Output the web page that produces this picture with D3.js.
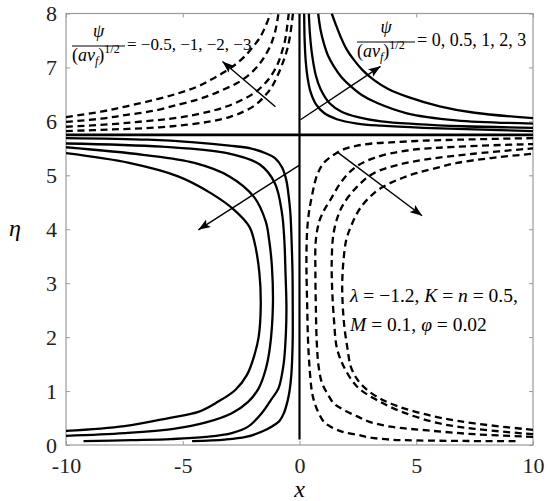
<!DOCTYPE html>
<html><head><meta charset="utf-8">
<script src="https://cdn.jsdelivr.net/npm/d3@7/dist/d3.min.js"></script>
<style>body{margin:0;background:#fff}svg{display:block}text{font-family:"Liberation Serif","Times New Roman",serif}</style>
</head><body><svg id="c" width="550" height="501"></svg>
<script>
// ---- axes ----
const xTicks = [-10, -5, 0, 5, 10];
const yTicks = [0, 1, 2, 3, 4, 5, 6, 7, 8];
// ---- stream function levels (psi/(a nu_f)^1/2) ----
const posLevels = [0, 0.5, 1, 2, 3];
const negLevels = [-0.5, -1, -2, -3];
const dividingEta = 5.75;           // psi = 0 horizontal line
const axisLineEta = [0.1, 8];        // psi = 0 vertical line x = 0

// streamlines [x, eta]
// lower-left, psi > 0 (solid)
const llPsi05 = [[-4.6,0.07],[-3.2,0.10],[-2.3,0.15],[-1.6,0.25],[-1.2,0.34],[-0.85,0.45],[-0.67,0.59],[-0.52,0.8],[-0.42,1.02],[-0.35,1.3],[-0.31,1.64],[-0.29,2.0],[-0.29,2.57],[-0.3,3.2],[-0.34,3.8],[-0.39,4.3],[-0.46,4.6],[-0.57,4.92],[-0.75,5.15],[-1.05,5.32],[-1.45,5.41],[-2.1,5.5],[-3.0,5.55],[-4.5,5.61],[-6.5,5.66],[-10,5.69]];
const llPsi1 = [[-9.25,0.07],[-7.2,0.09],[-5.5,0.11],[-4.0,0.15],[-2.9,0.22],[-2.2,0.34],[-1.62,0.59],[-1.2,0.85],[-0.9,1.05],[-0.68,1.5],[-0.58,2.1],[-0.56,2.57],[-0.6,3.2],[-0.65,3.8],[-0.75,4.3],[-1.05,4.85],[-1.7,5.2],[-3.1,5.41],[-5.9,5.53],[-10,5.59]];
const llPsi2 = [[-10,0.17],[-7.5,0.22],[-5.4,0.3],[-4.0,0.42],[-2.9,0.59],[-2.2,0.8],[-1.75,1.05],[-1.45,1.4],[-1.27,1.8],[-1.14,2.57],[-1.18,3.3],[-1.3,3.8],[-1.45,4.15],[-1.95,4.6],[-3.0,4.98],[-4.5,5.23],[-6.7,5.38],[-10,5.52]];
const llPsi3 = [[-10,0.26],[-7.5,0.35],[-5.6,0.5],[-4.3,0.62],[-3.5,0.8],[-2.75,1.02],[-2.25,1.3],[-1.95,1.64],[-1.75,2.0],[-1.66,2.57],[-1.72,3.2],[-1.95,3.8],[-2.15,4.05],[-2.8,4.36],[-3.8,4.67],[-5.2,4.98],[-7.3,5.23],[-10,5.41]];
// upper-right, psi > 0 (solid)
const urPsi05 = [[0.2,8.0],[0.22,7.5],[0.27,7.1],[0.35,6.8],[0.47,6.55],[0.7,6.32],[1.04,6.16],[1.6,6.04],[2.47,5.96],[3.5,5.92],[5.3,5.88],[7.5,5.85],[10,5.82]];
const urPsi1 = [[0.4,8.0],[0.45,7.6],[0.55,7.2],[0.7,6.85],[0.9,6.6],[1.3,6.33],[1.8,6.18],[2.5,6.08],[3.5,6.0],[5.0,5.95],[7.0,5.91],[10,5.88]];
const urPsi2 = [[0.8,8.0],[0.9,7.7],[1.04,7.45],[1.22,7.22],[1.47,7.02],[1.8,6.82],[2.2,6.65],[2.7,6.48],[3.33,6.34],[4.6,6.15],[6.7,6.02],[10,5.96]];
const urPsi3 = [[1.38,8.0],[1.55,7.8],[1.76,7.57],[2.0,7.35],[2.33,7.14],[2.7,6.95],[3.18,6.77],[3.8,6.6],[4.6,6.46],[6.0,6.28],[7.5,6.16],[10,6.06]];
// upper-left, psi < 0 (dashed)
const ulPsiM05 = [[-10,5.82],[-8,5.85],[-6,5.89],[-4.8,5.94],[-3.8,6.0],[-3.0,6.08],[-2.4,6.18],[-1.9,6.3],[-1.53,6.45],[-1.2,6.63],[-0.96,6.83],[-0.72,7.08],[-0.53,7.33],[-0.4,7.6],[-0.28,8.0]];
const ulPsiM1 = [[-10,5.9],[-8,5.95],[-6.7,6.0],[-5.5,6.05],[-4.5,6.12],[-3.7,6.2],[-3.1,6.28],[-2.5,6.39],[-1.96,6.52],[-1.55,6.67],[-1.24,6.83],[-0.95,7.05],[-0.78,7.25],[-0.62,7.5],[-0.53,7.75],[-0.46,8.0]];
const ulPsiM2 = [[-10,5.99],[-8.5,6.05],[-7.4,6.12],[-6.2,6.2],[-5.2,6.31],[-4.4,6.4],[-3.8,6.49],[-3.2,6.6],[-2.67,6.71],[-2.2,6.85],[-1.8,7.02],[-1.5,7.2],[-1.25,7.4],[-1.05,7.65],[-0.9,8.0]];
const ulPsiM3 = [[-10,6.08],[-8.5,6.18],[-7.4,6.28],[-6.2,6.4],[-5.2,6.52],[-4.4,6.64],[-3.8,6.77],[-3.2,6.92],[-2.67,7.08],[-2.25,7.25],[-1.96,7.4],[-1.7,7.55],[-1.5,7.72],[-1.24,8.0]];
// lower-right, psi < 0 (dashed)
const lrPsiM05 = [[9.25,0.07],[7.0,0.075],[5.0,0.085],[3.9,0.1],[3.0,0.14],[2.47,0.19],[1.95,0.23],[1.61,0.28],[1.25,0.36],[1.04,0.43],[0.76,0.65],[0.6,0.85],[0.52,1.02],[0.42,1.5],[0.36,2.0],[0.33,2.57],[0.3,3.2],[0.3,3.62],[0.33,3.99],[0.4,4.3],[0.47,4.48],[0.58,4.72],[0.69,4.92],[0.85,5.1],[1.04,5.23],[1.3,5.33],[1.61,5.42],[2.0,5.5],[2.47,5.55],[3.1,5.59],[3.9,5.61],[5.2,5.64],[6.75,5.66],[10,5.69]];
const lrPsiM1 = [[10,0.15],[7.5,0.2],[5.5,0.27],[3.9,0.34],[3.0,0.43],[2.47,0.53],[1.9,0.65],[1.47,0.77],[1.2,0.95],[0.97,1.14],[0.82,1.45],[0.74,1.9],[0.7,2.57],[0.68,3.2],[0.7,3.8],[0.85,4.15],[1.05,4.35],[1.33,4.55],[1.76,4.86],[2.33,5.13],[3.18,5.32],[4.61,5.46],[6.75,5.53],[10,5.58]];
const lrPsiM2 = [[10,0.2],[7.5,0.3],[6.0,0.4],[4.47,0.6],[3.33,0.83],[2.47,1.08],[1.9,1.45],[1.6,1.8],[1.48,2.3],[1.4,2.88],[1.38,3.4],[1.45,3.9],[1.65,4.25],[1.9,4.48],[2.47,4.79],[3.18,5.04],[4.18,5.19],[5.5,5.3],[7.46,5.4],[10,5.5]];
const lrPsiM3 = [[10,0.28],[7.5,0.4],[6.1,0.5],[5.1,0.6],[4.2,0.72],[3.5,0.85],[2.9,1.02],[2.5,1.2],[2.2,1.45],[2.05,1.8],[1.92,2.2],[1.85,2.6],[1.83,3.0],[1.88,3.4],[2.0,3.8],[2.2,4.05],[2.47,4.3],[2.7,4.45],[3.04,4.61],[3.4,4.74],[3.9,4.86],[4.4,4.95],[5.0,5.04],[5.8,5.13],[6.75,5.23],[8.2,5.32],[10,5.40]];

const solidCurves = [llPsi05, llPsi1, llPsi2, llPsi3, urPsi05, urPsi1, urPsi2, urPsi3];
const dashedCurves = [ulPsiM05, ulPsiM1, ulPsiM2, ulPsiM3, lrPsiM05, lrPsiM1, lrPsiM2, lrPsiM3];
// arrows [x0, eta0, x1, eta1] (direction of increasing |psi|)
const arrows = [[-1.03,6.27,-3.3,7.11],[0.04,6.03,3.47,7.02],[0,5.19,-4.33,3.99],[1.65,5.42,5.25,4.25]];

// ---- drawing ----
const svg = d3.select("#c");
const L = 66, R = 533, T = 13.5, B = 445;
const x = d3.scaleLinear().domain([-10, 10]).range([L, R]);
const y = d3.scaleLinear().domain([0, 8]).range([B, T]);
const gray = "#9a9a9a";

svg.append("defs").append("clipPath").attr("id","clip")
  .append("rect").attr("x",L).attr("y",T).attr("width",R-L).attr("height",B-T);
const mk = svg.select("defs").append("marker").attr("id","arr")
  .attr("markerUnits","userSpaceOnUse").attr("markerWidth",14).attr("markerHeight",10)
  .attr("refX",12).attr("refY",4.5).attr("orient","auto");
mk.append("path").attr("d","M0,0 L12,4.5 L0,9 L2.5,4.5 Z").attr("fill","#000");

function styleAxis(g){
  g.select(".domain").remove();
  g.selectAll(".tick line").attr("stroke",gray).attr("stroke-width",1);
  g.selectAll(".tick text").attr("fill","#222").style("font-size","22px")
   .style("font-family",'"Liberation Serif","Times New Roman",serif');
}
const fmt = d => String(d);
svg.append("g").attr("transform",`translate(0,${B})`)
  .call(d3.axisBottom(x).tickValues(xTicks).tickFormat(fmt).tickSizeInner(-4).tickSizeOuter(0).tickPadding(12)).call(styleAxis);
svg.append("g").attr("transform",`translate(0,${T})`)
  .call(d3.axisTop(x).tickValues(xTicks).tickFormat("").tickSizeInner(-4).tickSizeOuter(0)).call(styleAxis);
svg.append("g").attr("transform",`translate(${L},0)`)
  .call(d3.axisLeft(y).tickValues(yTicks).tickFormat(fmt).tickSizeInner(-4).tickSizeOuter(0).tickPadding(9)).call(styleAxis);
svg.append("g").attr("transform",`translate(${R},0)`)
  .call(d3.axisRight(y).tickValues(yTicks).tickFormat("").tickSizeInner(-4).tickSizeOuter(0)).call(styleAxis);
svg.append("rect").attr("x",L).attr("y",T).attr("width",R-L).attr("height",B-T)
  .attr("fill","none").attr("stroke",gray).attr("stroke-width",1.2);

const plot = svg.append("g").attr("clip-path","url(#clip)");
const line = d3.line().x(d=>x(d[0])).y(d=>y(d[1])).curve(d3.curveCatmullRom.alpha(0.5));

plot.selectAll("path.s").data(solidCurves).join("path").attr("class","s")
  .attr("d",line).attr("fill","none").attr("stroke","#000").attr("stroke-width",2.3);
plot.selectAll("path.d").data(dashedCurves).join("path").attr("class","d")
  .attr("d",line).attr("fill","none").attr("stroke","#000").attr("stroke-width",2.3)
  .attr("stroke-dasharray","7,4.5");
// psi = 0 lines
plot.append("line").attr("x1",x(-10)).attr("x2",x(10)).attr("y1",y(dividingEta)).attr("y2",y(dividingEta))
  .attr("stroke","#000").attr("stroke-width",2.6);
plot.append("line").attr("x1",x(0)).attr("x2",x(0)).attr("y1",y(axisLineEta[0])).attr("y2",y(axisLineEta[1]))
  .attr("stroke","#000").attr("stroke-width",2.2);

svg.selectAll("line.arrow").data(arrows).join("line").attr("class","arrow")
  .attr("x1",d=>x(d[0])).attr("y1",d=>y(d[1])).attr("x2",d=>x(d[2])).attr("y2",d=>y(d[3]))
  .attr("stroke","#000").attr("stroke-width",1.4).attr("marker-end","url(#arr)");

// axis titles
svg.append("text").attr("x",x(0)).attr("y",497).attr("text-anchor","middle")
  .style("font-size","24px").style("font-style","italic").text("x");
svg.append("text").attr("x",15).attr("y",236).attr("text-anchor","middle")
  .style("font-size","24px").style("font-style","italic").text("η");

// fraction labels
function fraction(barL, barR, barY, rest, restX, fs){
  const g = svg.append("g");
  g.append("text").attr("x",(barL+barR)/2).attr("y",barY-9).attr("text-anchor","middle")
    .style("font-size","18px").style("font-style","italic").text("ψ");
  g.append("line").attr("x1",barL).attr("x2",barR).attr("y1",barY).attr("y2",barY)
    .attr("stroke","#000").attr("stroke-width",1);
  const den = g.append("text").attr("x",barL).attr("y",barY+15).style("font-size","18px");
  den.append("tspan").text("(");
  den.append("tspan").style("font-style","italic").text("aν");
  den.append("tspan").style("font-style","italic").style("font-size","12px").attr("dy",4).text("f");
  den.append("tspan").attr("dy",-4).text(")");
  den.append("tspan").style("font-size","12px").attr("dy",-8).text("1/2");
  g.append("text").attr("x",restX).attr("y",barY+4).style("font-size",fs+"px").text(rest);
}
fraction(72, 125, 46, "= −0.5, −1, −2, −3", 127, 17);
fraction(357, 415, 42, "= 0, 0.5, 1, 2, 3", 417, 18);

const t1 = svg.append("text").attr("x",350).attr("y",302).style("font-size","19.5px");
t1.append("tspan").style("font-style","italic").text("λ");
t1.append("tspan").text(" = −1.2, ");
t1.append("tspan").style("font-style","italic").text("K");
t1.append("tspan").text(" = ");
t1.append("tspan").style("font-style","italic").text("n");
t1.append("tspan").text(" = 0.5,");
const t2 = svg.append("text").attr("x",350).attr("y",331).style("font-size","19.5px");
t2.append("tspan").style("font-style","italic").text("M");
t2.append("tspan").text(" = 0.1, ");
t2.append("tspan").style("font-style","italic").text("φ");
t2.append("tspan").text(" = 0.02");
</script></body></html>
